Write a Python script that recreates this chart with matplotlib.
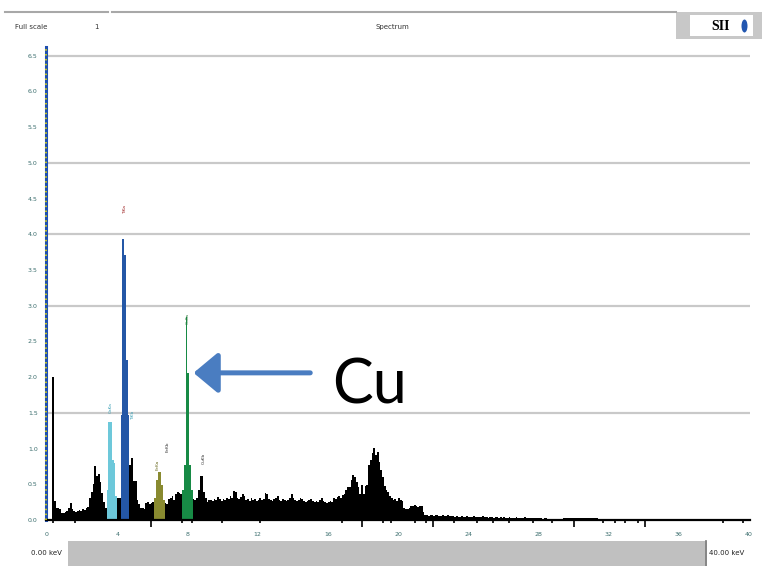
import numpy as np
import matplotlib
matplotlib.use("Agg")
import matplotlib.pyplot as plt
import matplotlib.transforms as mtransforms
from matplotlib.patches import Rectangle, Ellipse
from matplotlib.lines import Line2D

# ---- spectrum data: counts per 0.1 keV channel, 0-40 keV ----
channel_kev = 0.1
counts = [
    0, 0, 0, 200, 27, 17, 17, 15, 10, 10, 11, 13, 17, 24, 15, 13, 11, 13, 14, 13,
    15, 14, 17, 18, 31, 39, 50, 76, 62, 64, 53, 38, 25, 17, 42, 137, 137, 84, 80, 34,
    31, 31, 147, 393, 371, 224, 147, 77, 87, 55, 55, 28, 22, 17, 17, 15, 24, 25, 22, 24,
    25, 31, 56, 67, 67, 49, 28, 24, 22, 29, 31, 34, 28, 36, 39, 38, 36, 42, 77, 284,
    206, 77, 42, 29, 28, 31, 42, 62, 62, 39, 31, 25, 28, 28, 27, 29, 28, 32, 29, 27,
    29, 28, 31, 29, 34, 31, 41, 39, 31, 29, 32, 36, 34, 28, 29, 27, 31, 28, 29, 27,
    28, 31, 28, 29, 38, 36, 29, 28, 27, 29, 31, 34, 28, 27, 29, 28, 27, 28, 31, 36,
    31, 28, 27, 28, 31, 29, 27, 25, 27, 28, 29, 27, 25, 27, 25, 28, 31, 27, 25, 24,
    25, 27, 25, 31, 29, 32, 34, 31, 35, 36, 42, 46, 46, 56, 63, 60, 53, 46, 36, 49,
    36, 48, 49, 77, 84, 94, 101, 91, 95, 81, 70, 60, 48, 42, 39, 34, 31, 28, 29, 27,
    31, 28, 27, 17, 15, 15, 17, 20, 20, 21, 20, 18, 20, 20, 11, 7, 7, 6, 7, 7,
    6, 7, 7, 6, 6, 7, 6, 6, 7, 6, 6, 6, 4, 6, 4, 4, 6, 4, 4, 6,
    4, 4, 4, 6, 4, 4, 4, 4, 6, 4, 4, 3, 4, 4, 3, 4, 4, 3, 4, 3,
    4, 3, 3, 4, 3, 3, 3, 4, 3, 3, 3, 3, 4, 3, 3, 3, 3, 3, 3, 3,
    3, 3, 1, 3, 3, 1, 1, 1, 1, 1, 1, 1, 1, 1, 3, 3, 3, 3, 3, 3,
    3, 3, 3, 3, 3, 3, 3, 3, 3, 3, 3, 3, 3, 3, 1, 1, 1, 1, 1, 1,
    1, 1, 1, 1, 1, 1, 1, 1, 0, 1, 1, 0, 1, 0, 1, 1, 0, 0, 1, 0,
    1, 0, 0, 0, 0, 0, 0, 0, 0, 0, 0, 0, 0, 0, 0, 0, 0, 0, 0, 0,
    0, 0, 0, 0, 0, 0, 0, 0, 0, 0, 0, 0, 0, 0, 0, 0, 0, 0, 0, 0,
    0, 0, 0, 0, 0, 0, 0, 0, 0, 0, 0, 0, 0, 0, 0, 0, 0, 0, 0, 0,
]

# regions of interest (coloured peak windows)
roi_start_kev = [3.4, 4.2, 6.1, 7.7]
roi_end_kev = [4.0, 4.7, 6.7, 8.3]
roi_colors = ["#6dc8da", "#2457a6", "#898a30", "#178a45"]

# line identification marks
peak_names = ["CaKa", "TiKa", "TiKb", "FeKa", "FeKb", "CuKa", "CuKb"]
peak_name_kev = [3.65, 4.45, 4.9, 6.3, 6.85, 8.0, 8.95]
peak_name_counts = [150, 428, 140, 70, 95, 275, 78]
peak_name_colors = ["#3a9fb5", "#a02828", "#3a9fb5", "#6a6a20", "#333333", "#2a7a3a", "#333333"]

# channel markers under the energy axis
marker_kev = [0.36, 1.58, 7.71, 8.28, 9.99, 12.14, 16.79, 19.16, 19.58, 20.97,
              21.60, 23.19, 24.48, 25.43, 26.34, 27.70, 28.75, 31.70, 32.37,
              32.93, 33.69, 38.50, 39.67]
marker_long_kev = [5.91, 17.96, 22.01, 30.03, 34.07]

x_tick_kev = [0, 4, 8, 12, 16, 20, 24, 28, 32, 36, 40]
x_tick_labels = ["0", "4", "8", "12", "16", "20", "24", "28", "32", "36", "40"]
y_tick_counts = [0, 50, 100, 150, 200, 250, 300, 350, 400, 450, 500, 550, 600, 650]
y_tick_labels = ["0.0", "0.5", "1.0", "1.5", "2.0", "2.5", "3.0",
                 "3.5", "4.0", "4.5", "5.0", "5.5", "6.0", "6.5"]
grid_counts = [150, 300, 400, 500, 650]
tick_mark_counts = [0, 150, 300, 400, 500, 650]

W, H = 762, 566
fig = plt.figure(figsize=(W / 100, H / 100), dpi=100)
fig.patch.set_facecolor("white")


def fx(px):
    return px / W


def fy(py):
    return 1 - py / H


ax = fig.add_axes([fx(46), fy(520), fx(750) - fx(46), fy(47) - fy(520)])

counts = np.asarray(counts, dtype=float)
edges = np.arange(len(counts) + 1) * channel_kev

for g in grid_counts:
    ax.axhline(g, color="#c9c9c9", lw=1.6, zorder=0)

ax.stairs(counts, edges, fill=True, color="black", lw=0, zorder=2)
for s, e, c in zip(roi_start_kev, roi_end_kev, roi_colors):
    i0 = int(round(s / channel_kev))
    i1 = int(round(e / channel_kev))
    ax.stairs(counts[i0:i1], edges[i0:i1 + 1], fill=True, color=c, lw=0, zorder=3)

for name, k, c_, col in zip(peak_names, peak_name_kev, peak_name_counts, peak_name_colors):
    ax.text(k, c_, name, rotation=90, fontsize=3.2, color=col,
            ha="center", va="bottom", zorder=4)

xmin, xmax = -1 / 17.55, 703 / 17.55
ymax = 473 * 1.4
ax.set_xlim(xmin, xmax)
ax.set_ylim(0, ymax)

ax.axhline(0, color="black", lw=1.6, clip_on=False, zorder=5)

for side in ["top", "right", "bottom"]:
    ax.spines[side].set_visible(False)
ax.spines["left"].set_color("#1f4fb0")
ax.spines["left"].set_linewidth(2.2)
ax.axvline(xmin, color="#f3e600", lw=1.1, ls=(0, (1.0, 2.2)), clip_on=False, zorder=6)

ax.set_xticks(x_tick_kev)
ax.set_xticklabels(x_tick_labels, fontsize=4.5, color="#3b6e6e")
ax.tick_params(axis="x", length=0, pad=9)
ax.set_yticks(y_tick_counts)
ax.set_yticklabels(y_tick_labels, fontsize=4.5, color="#3b6e6e")
ax.tick_params(axis="y", which="major", length=0, pad=6)
ax.set_yticks(tick_mark_counts, minor=True)
ax.tick_params(axis="y", which="minor", length=3, width=1.2, color="black")

trans = mtransforms.blended_transform_factory(ax.transData, ax.transAxes)
ax.vlines(marker_kev, -0.007, 0, transform=trans, colors="black", lw=1.2, clip_on=False)
ax.vlines(marker_long_kev, -0.014, 0, transform=trans, colors="black", lw=1.2, clip_on=False)

# Cu callout
cu_idx = int(round(8.0 / channel_kev))
ax.annotate("", xy=(edges[cu_idx] + 0.35, counts[cu_idx]), xytext=(15.0, counts[cu_idx]),
            arrowprops=dict(arrowstyle="-|>,head_length=1.5,head_width=1.25",
                            lw=3.6, color="#4a7dc1", shrinkA=0, shrinkB=0,
                            mutation_scale=10, capstyle="round"),
            zorder=7)
ax.text(18.4, counts[cu_idx] - 18, "Cu", fontsize=44, family="Lato",
        ha="center", va="center", color="black", zorder=7)

# header
fig.add_artist(Line2D([fx(5), fx(108)], [fy(12), fy(12)], color="#a8a8a8", lw=1.5))
fig.add_artist(Line2D([fx(112), fx(676)], [fy(12), fy(12)], color="#a8a8a8", lw=1.5))
fig.text(fx(15), fy(27), "Full scale", fontsize=5, color="#333333", va="center")
fig.text(fx(94), fy(27), "1", fontsize=5, color="#333333", va="center")
fig.text(fx(392), fy(27), "Spectrum", fontsize=5, color="#333333", va="center", ha="center")
fig.add_artist(Rectangle((fx(676), fy(39)), fx(762) - fx(676), fy(12) - fy(39),
                         transform=fig.transFigure, color="#c8c8c8", lw=0))
fig.add_artist(Rectangle((fx(690), fy(36)), fx(753) - fx(690), fy(15) - fy(36),
                         transform=fig.transFigure, color="white", lw=0))
fig.text(fx(721), fy(26), "SII", fontsize=10, family="Liberation Serif",
         weight="bold", ha="center", va="center", color="black")
fig.add_artist(Ellipse((fx(744.5), fy(26)), fx(6), fy(0) - fy(13),
                       transform=fig.transFigure, color="#2256b0", lw=0))

# footer
fig.add_artist(Rectangle((fx(68), 0), fx(705) - fx(68), fy(541),
                         transform=fig.transFigure, color="#c0c0c0", lw=0))
fig.add_artist(Line2D([fx(706), fx(706)], [0, fy(541)], color="#707070", lw=1.2))
fig.text(fx(62), fy(553), "0.00 keV", fontsize=5, color="#222222", ha="right", va="center")
fig.text(fx(709), fy(553), "40.00 keV", fontsize=5, color="#222222", ha="left", va="center")

fig.savefig("out.png", dpi=100)
